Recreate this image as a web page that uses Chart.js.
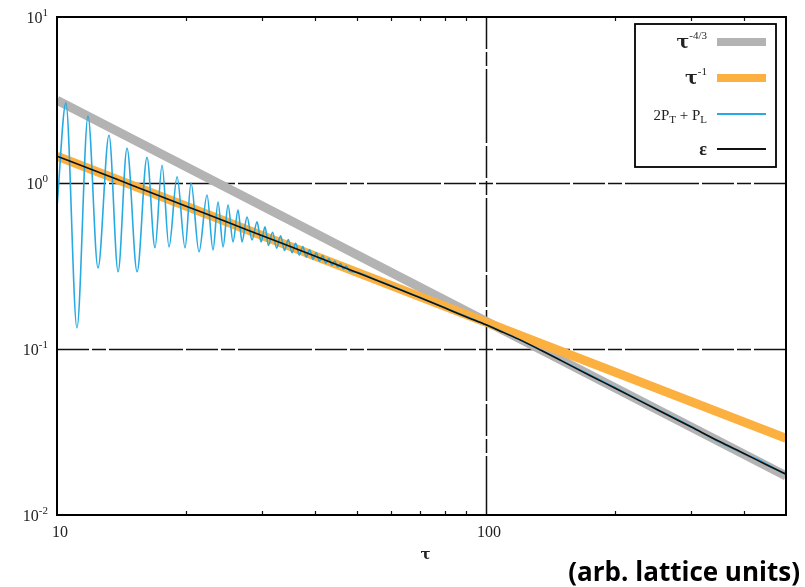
<!DOCTYPE html>
<html>
<head>
<meta charset="utf-8">
<script src="https://cdn.jsdelivr.net/npm/chart.js@4.4.1/dist/chart.umd.min.js"></script>
<style>
    html, body { margin: 0; padding: 0; background: #fff; }
    #wrap { position: relative; width: 805px; height: 587px; overflow: hidden; }
    #units {
        position: absolute; right: 5px; top: 553px;
        font-family: "Open Sans", sans-serif; font-weight: 700; font-size: 26px;
        color: #000; white-space: nowrap;
    }
</style>
</head>
<body>
<div id="wrap">
    <canvas id="chart" width="805" height="587"></canvas>
    <div id="units">(arb. lattice units)</div>
</div>
<script>
// axis ranges (log-log)
const tauMin = 10;
const tauMax = 500;
const valMin = 0.01;
const valMax = 10;

// guide power laws, end points only
const tauGuide = [10, 500];
const valPow43 = [3.15, 0.0172];
const valPow1 = [1.45, 0.029];

// energy density
const tauEps = [10, 12, 15, 20, 25, 30, 40, 50, 60, 70, 80, 90, 100, 110, 120, 135, 150, 175, 200, 250, 300, 350, 400, 450, 500];
const valEps = [1.45, 1.21, 0.967, 0.725, 0.58, 0.483, 0.362, 0.289, 0.240, 0.204, 0.177, 0.156, 0.140, 0.1255, 0.1135, 0.0975, 0.0848, 0.069, 0.058, 0.0432, 0.0340, 0.0277, 0.0234, 0.0201, 0.0176];

// 2P_T + P_L, oscillating at early times
const tauP = [
    10.0, 10.49, 11.13, 11.81, 12.46, 13.22, 13.88, 14.56, 15.37, 16.21,
    16.92, 17.57, 18.24, 19.05, 19.88, 20.53, 21.43, 22.37, 23.1, 23.73,
    24.38, 25.04, 25.72, 26.42, 26.99, 27.73, 28.48, 29.26, 29.89, 30.54,
    31.1, 31.8, 32.5, 33.2, 33.9, 34.6, 35.3, 36.0, 36.7, 37.4,
    38.1, 38.8, 39.5, 40.2, 40.9, 41.6, 42.3, 43.0, 43.7, 44.4,
    45.1, 45.8, 46.5, 47.2, 48.0, 50, 55, 60, 70, 80,
    90, 100, 120, 150, 200, 250, 300, 340, 380, 410,
    430, 450, 470, 490, 500
];
const valP = [
    0.717, 3.03, 0.134, 2.53, 0.308, 1.94, 0.292, 1.62, 0.292, 1.43,
    0.407, 1.28, 0.412, 1.09, 0.407, 1.00, 0.385, 0.847, 0.395, 0.769,
    0.412, 0.737, 0.442, 0.688, 0.442, 0.624, 0.454, 0.583, 0.442, 0.544,
    0.420, 0.505, 0.405, 0.480, 0.392, 0.456, 0.380, 0.434, 0.368, 0.414,
    0.358, 0.396, 0.348, 0.380, 0.338, 0.365, 0.329, 0.351, 0.320, 0.339,
    0.312, 0.327, 0.304, 0.316, 0.295, 0.290, 0.263, 0.241, 0.205, 0.178,
    0.157, 0.140, 0.1135, 0.0850, 0.0584, 0.0434, 0.0342, 0.0286, 0.0248, 0.0227,
    0.0216, 0.0203, 0.0191, 0.0180, 0.0177
];

// tick labels
const xTicks = [10, 100];
const xTickText = ['10', '100'];
const yTicks = [10, 1, 0.1, 0.01];
const yTickExp = ['1', '0', '-1', '-2'];
const xMinor = [20, 30, 40, 50, 60, 70, 80, 90, 200, 300, 400];

const serif = '"Liberation Serif", "Times New Roman", serif';
const wideSerif = '"DejaVu Serif", serif';

function toPoints(xs, ys) {
    return xs.map((x, i) => ({ x: x, y: ys[i] }));
}

// draws a run of text pieces (with super/subscripts) anchored at x
function drawPieces(ctx, x, y, pieces, align) {
    let total = 0;
    pieces.forEach(p => {
        ctx.font = p.font;
        p.w = ctx.measureText(p.t).width;
        total += p.w;
    });
    let cx = align === 'right' ? x - total : (align === 'center' ? x - total / 2 : x);
    ctx.textAlign = 'left';
    ctx.textBaseline = 'alphabetic';
    pieces.forEach(p => {
        ctx.font = p.font;
        ctx.fillText(p.t, cx, y + (p.dy || 0));
        cx += p.w;
    });
}

const plotDecor = {
    id: 'plotDecor',
    beforeDatasetsDraw(chart) {
        const { ctx, chartArea: a, scales: { x, y } } = chart;
        ctx.save();
        ctx.strokeStyle = '#111';
        ctx.lineWidth = 1.5;
        ctx.setLineDash([32, 3, 14, 3, 74, 3]);
        [1, 0.1].forEach(v => {
            const py = Math.round(y.getPixelForValue(v)) + 0.5;
            ctx.beginPath();
            ctx.moveTo(a.left, py);
            ctx.lineTo(a.right, py);
            ctx.stroke();
        });
        const px = Math.round(x.getPixelForValue(100)) + 0.5;
        ctx.beginPath();
        ctx.moveTo(px, a.top);
        ctx.lineTo(px, a.bottom);
        ctx.stroke();
        ctx.restore();
    },
    afterDatasetsDraw(chart) {
        const { ctx, chartArea: a, scales: { x, y } } = chart;
        ctx.save();

        // minor ticks, top and bottom
        ctx.strokeStyle = '#111';
        ctx.lineWidth = 1.2;
        xMinor.forEach(t => {
            const px = Math.round(x.getPixelForValue(t)) + 0.5;
            ctx.beginPath();
            ctx.moveTo(px, a.bottom);
            ctx.lineTo(px, a.bottom - 4);
            ctx.moveTo(px, a.top);
            ctx.lineTo(px, a.top + 4);
            ctx.stroke();
        });

        // frame
        ctx.lineWidth = 2;
        ctx.strokeStyle = '#000';
        ctx.strokeRect(a.left, a.top, a.right - a.left, a.bottom - a.top);

        // tick labels
        ctx.fillStyle = '#222';
        yTicks.forEach((v, i) => {
            const py = y.getPixelForValue(v);
            drawPieces(ctx, a.left - 9, py + 6, [
                { t: '10', font: '16px ' + serif },
                { t: yTickExp[i], font: '11px ' + serif, dy: -7 }
            ], 'right');
        });
        xTicks.forEach((v, i) => {
            const px = x.getPixelForValue(v);
            drawPieces(ctx, px + 3, a.bottom + 22, [{ t: xTickText[i], font: '16px ' + serif }], 'center');
        });
        drawPieces(ctx, (a.left + a.right) / 2 + 4, a.bottom + 44, [{ t: 'τ', font: 'bold 15px ' + wideSerif }], 'center');

        // legend box
        const bx = 635, by = 24, bw = 141, bh = 143;
        ctx.fillStyle = '#fff';
        ctx.fillRect(bx, by, bw, bh);
        ctx.lineWidth = 1.8;
        ctx.strokeStyle = '#000';
        ctx.strokeRect(bx, by, bw, bh);

        const tau = 'bold 19px ' + wideSerif;
        const sup = '11px ' + serif;
        const body = '15px ' + serif;
        const sub = '11px ' + serif;
        const rows = [
            { y: 42, color: '#b3b3b3', width: 8, text: [{ t: 'τ', font: tau }, { t: '-4/3', font: sup, dy: -9 }] },
            { y: 78, color: '#fbb040', width: 8, text: [{ t: 'τ', font: tau }, { t: '-1', font: sup, dy: -9 }] },
            { y: 114, color: '#27aae1', width: 2, text: [
                { t: '2P', font: body }, { t: 'T', font: sub, dy: 3 },
                { t: ' + P', font: body }, { t: 'L', font: sub, dy: 3 }
            ] },
            { y: 149, color: '#111', width: 2, text: [{ t: 'ε', font: 'bold 18px ' + serif }] }
        ];
        rows.forEach(r => {
            ctx.fillStyle = '#222';
            drawPieces(ctx, 707, r.y + 6, r.text, 'right');
            ctx.strokeStyle = r.color;
            ctx.lineWidth = r.width;
            ctx.beginPath();
            ctx.moveTo(717, r.y);
            ctx.lineTo(766, r.y);
            ctx.stroke();
        });
        ctx.restore();
    }
};

new Chart(document.getElementById('chart'), {
    type: 'line',
    data: {
        datasets: [
            {
                label: 'τ^-4/3',
                data: toPoints(tauGuide, valPow43),
                borderColor: '#b3b3b3',
                borderWidth: 9,
                order: 4
            },
            {
                label: 'τ^-1',
                data: toPoints(tauGuide, valPow1),
                borderColor: '#fbb040',
                borderWidth: 9,
                order: 3
            },
            {
                label: '2P_T + P_L',
                data: toPoints(tauP, valP),
                borderColor: '#27aae1',
                borderWidth: 1.6,
                cubicInterpolationMode: 'monotone',
                order: 2
            },
            {
                label: 'ε',
                data: toPoints(tauEps, valEps),
                borderColor: '#111',
                borderWidth: 1.6,
                cubicInterpolationMode: 'monotone',
                order: 1
            }
        ]
    },
    options: {
        responsive: false,
        animation: false,
        clip: 0,
        layout: { padding: { left: 57, right: 19, top: 17, bottom: 72 } },
        elements: { point: { radius: 0 } },
        plugins: {
            legend: { display: false },
            tooltip: { enabled: false }
        },
        scales: {
            x: { type: 'logarithmic', display: false, min: tauMin, max: tauMax },
            y: { type: 'logarithmic', display: false, min: valMin, max: valMax }
        }
    },
    plugins: [plotDecor]
});
</script>
</body>
</html>
